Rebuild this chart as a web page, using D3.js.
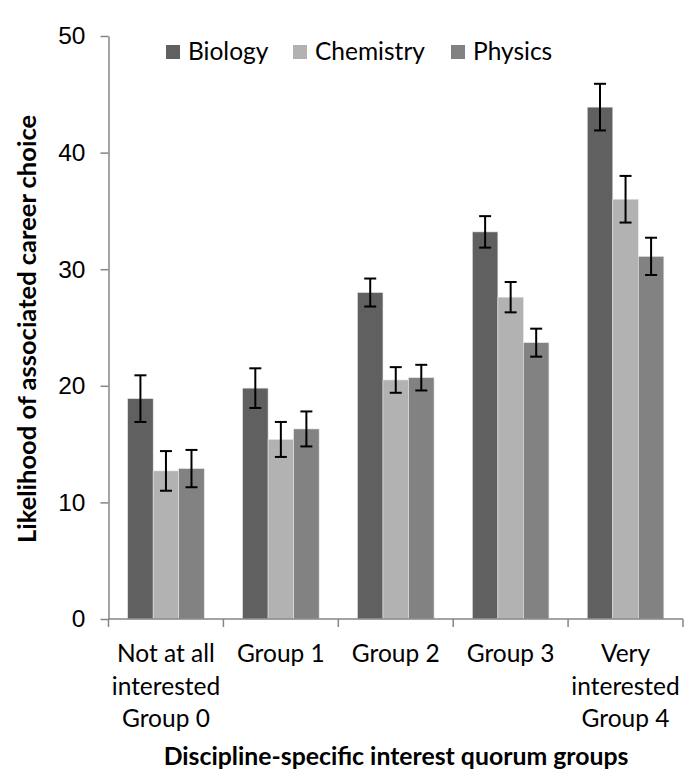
<!DOCTYPE html>
<html>
<head>
<meta charset="utf-8">
<script src="https://cdn.jsdelivr.net/npm/d3@7"></script>
<style>
  html, body { margin: 0; padding: 0; background: #fff; }
  svg { display: block; font-family: Lato, "Open Sans", "Liberation Sans", sans-serif; }
</style>
</head>
<body>
<svg id="chart" width="684" height="770"></svg>
<script>
// ---- data ----
const categories = [
  ["Not at all", "interested", "Group 0"],
  ["Group 1"],
  ["Group 2"],
  ["Group 3"],
  ["Very", "interested", "Group 4"]
];
const seriesNames = ["Biology", "Chemistry", "Physics"];
const biology   = [18.9, 19.8, 28.0, 33.2, 43.9];
const chemistry = [12.7, 15.4, 20.5, 27.6, 36.0];
const physics   = [12.9, 16.3, 20.7, 23.7, 31.1];
const biologyErr   = [2.0, 1.7, 1.2, 1.35, 2.0];
const chemistryErr = [1.7, 1.5, 1.1, 1.3, 2.0];
const physicsErr   = [1.6, 1.5, 1.1, 1.2, 1.6];
const yTicks = [0, 10, 20, 30, 40, 50];
const yTitle = "Likelihood of associated career choice";
const xTitle = "Discipline-specific interest quorum groups";

const colors = ["#606060", "#b2b2b2", "#828282"];
const values = [biology, chemistry, physics];
const errs = [biologyErr, chemistryErr, physicsErr];

const svg = d3.select("#chart");
const axisColor = "#868686";

const x = d3.scaleBand().domain(d3.range(categories.length)).range([108.5, 683]).paddingInner(0).paddingOuter(0);
const inner = d3.scaleBand().domain(d3.range(seriesNames.length)).range([0, x.bandwidth()]).paddingOuter(0.75).paddingInner(0);
const y = d3.scaleLinear().domain([0, 50]).range([619, 36]);

// bars
const rows = [];
categories.forEach((c, i) => {
  seriesNames.forEach((s, j) => {
    rows.push({ i, j, v: values[j][i], e: errs[j][i] });
  });
});

const g = svg.append("g");
g.selectAll("rect.bar").data(rows).enter().append("rect")
  .attr("class", "bar")
  .attr("x", d => x(d.i) + inner(d.j))
  .attr("y", d => y(d.v))
  .attr("width", inner.bandwidth())
  .attr("height", d => y(0) - y(d.v))
  .attr("fill", d => colors[d.j])
  .attr("stroke", "#e6e6e6")
  .attr("stroke-width", 0.6);

// error bars
const eb = g.selectAll("g.err").data(rows).enter().append("g").attr("class", "err")
  .attr("stroke", "#000").attr("stroke-width", 2);
const cx = d => x(d.i) + inner(d.j) + inner.bandwidth() / 2;
const capW = 6;
eb.append("line").attr("x1", cx).attr("x2", cx).attr("y1", d => y(d.v + d.e)).attr("y2", d => y(d.v - d.e));
eb.append("line").attr("x1", d => cx(d) - capW).attr("x2", d => cx(d) + capW).attr("y1", d => y(d.v + d.e)).attr("y2", d => y(d.v + d.e));
eb.append("line").attr("x1", d => cx(d) - capW).attr("x2", d => cx(d) + capW).attr("y1", d => y(d.v - d.e)).attr("y2", d => y(d.v - d.e));

// y axis
const yAxis = d3.axisLeft(y).tickValues(yTicks).tickSize(8).tickPadding(15).tickSizeOuter(0);
const ya = svg.append("g").attr("transform", "translate(108.5,0)").call(yAxis);
ya.select(".domain").attr("stroke", axisColor).attr("stroke-width", 1.5);
ya.selectAll(".tick line").attr("stroke", axisColor).attr("stroke-width", 1.5);
ya.selectAll(".tick text").attr("font-size", 24.5).attr("fill", "#000").attr("font-family", null);

// x axis line and ticks at band boundaries
const bounds = d3.range(categories.length + 1).map(k => k < categories.length ? x(k) : x.range()[1]);
svg.append("line").attr("x1", 108.5).attr("x2", x.range()[1]).attr("y1", y(0)).attr("y2", y(0))
  .attr("stroke", axisColor).attr("stroke-width", 1.5);
svg.selectAll("line.xt").data(bounds).enter().append("line").attr("class", "xt")
  .attr("x1", d => d).attr("x2", d => d).attr("y1", y(0)).attr("y2", y(0) + 8)
  .attr("stroke", axisColor).attr("stroke-width", 1.5);

// x labels
const xl = svg.selectAll("text.xl").data(categories).enter().append("text").attr("class", "xl")
  .attr("text-anchor", "middle").attr("font-size", 24.5).attr("fill", "#000");
xl.each(function(lines, i) {
  const t = d3.select(this);
  lines.forEach((ln, k) => {
    t.append("tspan").attr("x", x(i) + x.bandwidth() / 2).attr("y", 662 + k * 32.5).text(ln);
  });
});

// axis titles
svg.append("text").attr("x", 396).attr("y", 765).attr("text-anchor", "middle")
  .attr("font-size", 24.8).attr("font-weight", "bold").attr("fill", "#000").text(xTitle);
svg.append("text").attr("transform", "translate(36,329) rotate(-90)").attr("text-anchor", "middle")
  .attr("font-size", 25.5).attr("font-weight", "bold").attr("fill", "#000").text(yTitle);

// legend
const legX = [166, 293, 451];
const leg = svg.selectAll("g.leg").data(seriesNames).enter().append("g").attr("class", "leg")
  .attr("transform", (d, j) => `translate(${legX[j]},45)`);
leg.append("rect").attr("width", 14).attr("height", 14).attr("fill", (d, j) => colors[j]);
leg.append("text").attr("x", 22).attr("y", 15).attr("font-size", 24.5).attr("fill", "#000").text(d => d);
</script>
</body>
</html>
